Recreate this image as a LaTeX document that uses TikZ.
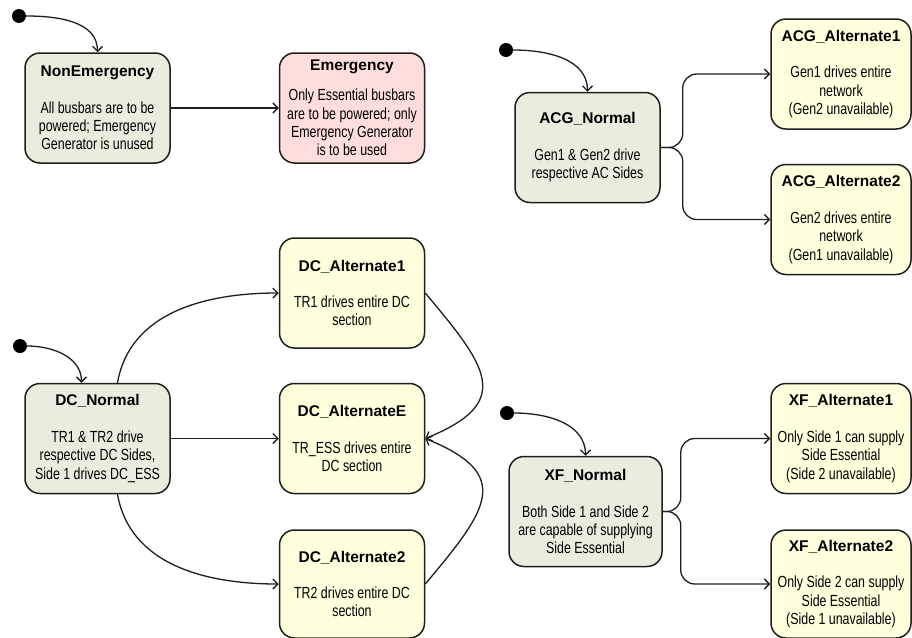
\documentclass[tikz,border=0pt]{standalone}
\usepackage{fontspec}
\setmainfont{Liberation Sans}
\newfontfamily\narrowfont{Liberation Sans}[FakeStretch=0.77]
\usepackage{xcolor}
\definecolor{stateline}{RGB}{30,30,30}
\definecolor{normalfill}{RGB}{233,237,222}
\definecolor{altfill}{RGB}{255,255,221}
\definecolor{emergfill}{RGB}{255,221,221}
\usetikzlibrary{arrows.meta}
\newcommand{\statename}[1]{{\normalfont\bfseries\fontsize{15.5}{18.3}\selectfont #1}}

\begin{document}
\begin{tikzpicture}[x=1pt,y=1pt,
      state/.style={draw=stateline,line width=1.5pt,rounded corners=15pt,
      minimum width=145pt,minimum height=110pt,inner sep=0pt,align=center,
      font=\narrowfont\fontsize{16.1}{18.3}\selectfont},
      normalstate/.style={state,fill=normalfill},
      altstate/.style={state,fill=altfill},
      emergstate/.style={state,fill=emergfill},
      start/.style={circle,fill=black,minimum size=14pt,inner sep=0pt},
      arrow/.style={-{Straight Barb[length=5pt,width=10pt]},line width=1.3pt,draw=stateline}
    ]
    \useasboundingbox (0,0) rectangle (912,-637);
    % emergency mode
    \node[start] (s1) at (19,-16) {};
    \node[normalstate] (nonem) at (97.5,-108) {\statename{NonEmergency}\\[18.3pt]All busbars are to be\\powered; Emergency\\Generator is unused};
    \node[emergstate] (emerg) at (352,-108) {\statename{Emergency}\\[11.7pt]Only Essential busbars\\are to be powered; only\\Emergency Generator\\is to be used};
    \draw[arrow] (s1) to[out=0,in=90] (nonem.north);
    \draw[arrow] (nonem) -- (emerg);
    % AC generators
    \node[start] (s2) at (506,-50) {};
    \node[normalstate] (acgn) at (587.5,-147.5) {\statename{ACG\_Normal}\\[18.3pt]Gen1 \& Gen2 drive\\respective AC Sides};
    \node[altstate,minimum width=140pt] (acga1) at (841,-74) {\statename{ACG\_Alternate1}\\[18.3pt]Gen1 drives entire\\network\\(Gen2 unavailable)};
    \node[altstate,minimum width=140pt] (acga2) at (841,-219.5) {\statename{ACG\_Alternate2}\\[18.3pt]Gen2 drives entire\\network\\(Gen1 unavailable)};
    \draw[arrow] (s2) to[out=0,in=90] (acgn.north);
    \draw[arrow,rounded corners=14pt] (acgn.east) -- ++(22,0) |- (acga1);
    \draw[arrow,rounded corners=14pt] (acgn.east) -- ++(22,0) |- (acga2);
    % DC section
    \node[start] (s3) at (20,-346) {};
    \node[normalstate] (dcn) at (97.5,-438.5) {\statename{DC\_Normal}\\[18.3pt]TR1 \& TR2 drive\\respective DC Sides,\\Side 1 drives DC\_ESS};
    \node[altstate] (dca1) at (352,-293) {\statename{DC\_Alternate1}\\[18.3pt]TR1 drives entire DC\\section};
    \node[altstate] (dcae) at (352,-438.5) {\statename{DC\_AlternateE}\\[18.3pt]TR\_ESS drives entire\\DC section};
    \node[altstate,minimum height=108pt] (dca2) at (352,-584) {\statename{DC\_Alternate2}\\[18.3pt]TR2 drives entire DC\\section};
    \draw[arrow] (s3) to[out=0,in=90] ([xshift=-16pt]dcn.north);
    \draw[arrow] ([xshift=20pt]dcn.north) to[out=80,in=180] (dca1.west);
    \draw[arrow] (dcn) -- (dcae);
    \draw[arrow] ([xshift=20pt]dcn.south) to[out=-80,in=180] (dca2.west);
    \draw[arrow] (dca1.east) to[out=-50,in=22,looseness=1.7] (dcae.east);
    \draw[arrow] (dca2.east) to[out=50,in=-22,looseness=1.7] (dcae.east);
    % cross-feed
    \node[start] (s4) at (507,-413) {};
    \node[normalstate,minimum width=153pt] (xfn) at (585.5,-511.5) {\statename{XF\_Normal}\\[18.3pt]Both Side 1 and Side 2\\are capable of supplying\\Side Essential};
    \node[altstate,minimum width=140pt] (xfa1) at (841,-438.5) {\statename{XF\_Alternate1}\\[18.3pt]Only Side 1 can supply\\Side Essential\\(Side 2 unavailable)};
    \node[altstate,minimum width=140pt,minimum height=108pt] (xfa2) at (841,-584) {\statename{XF\_Alternate2}\\[18.3pt]Only Side 2 can supply\\Side Essential\\(Side 1 unavailable)};
    \draw[arrow] (s4) to[out=0,in=90] (xfn.north);
    \draw[arrow,rounded corners=14pt] (xfn.east) -- ++(18,0) |- (xfa1);
    \draw[arrow,rounded corners=14pt] (xfn.east) -- ++(18,0) |- (xfa2);
  \end{tikzpicture}
\end{document}
